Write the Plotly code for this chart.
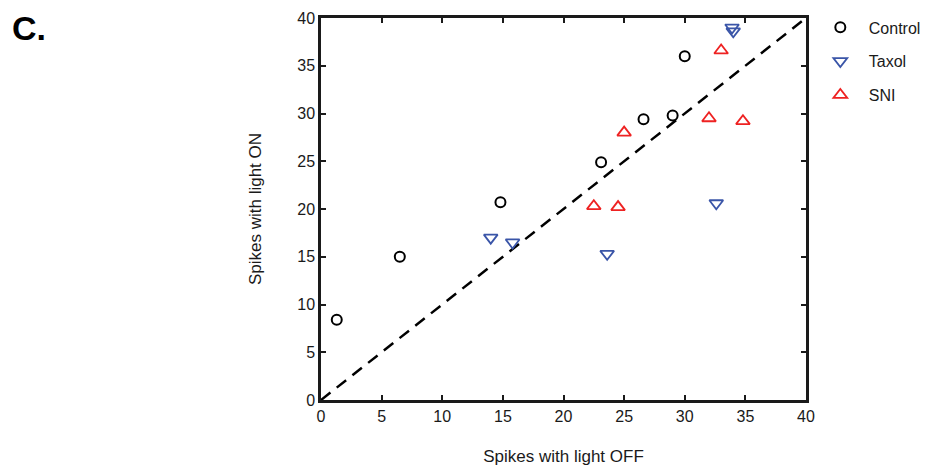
import plotly.graph_objects as go

# Spikes with light OFF (x) vs light ON (y)
control_off = [1.3, 6.5, 14.8, 23.1, 26.6, 29.0, 30.0]
control_on = [8.4, 15.0, 20.7, 24.9, 29.4, 29.8, 36.0]

taxol_off = [14.0, 15.8, 23.6, 32.6, 33.9, 34.0]
taxol_on = [17.0, 16.5, 15.3, 20.6, 39.0, 38.6]

sni_off = [22.5, 24.5, 25.0, 33.0, 32.0, 34.8]
sni_on = [20.3, 20.2, 28.0, 36.6, 29.5, 29.2]

unity = [0, 40]

font = "Liberation Sans, Arial, sans-serif"

fig = go.Figure()

# unity line
fig.add_trace(go.Scatter(
    x=unity, y=unity, mode="lines", showlegend=False,
    line=dict(color="black", width=2.5, dash="12px,8px"),
))

fig.add_trace(go.Scatter(
    x=control_off, y=control_on, mode="markers", name="Control", legendgroup="a",
    marker=dict(symbol="circle-open", size=10, color="black", line=dict(width=2)),
))
fig.add_trace(go.Scatter(
    x=taxol_off, y=taxol_on, mode="markers", name="Taxol", legendgroup="b",
    marker=dict(symbol="triangle-down-open", size=12, color="#3a55a8", line=dict(width=1.8)),
))
fig.add_trace(go.Scatter(
    x=sni_off, y=sni_on, mode="markers", name="SNI", legendgroup="c",
    marker=dict(symbol="triangle-up-open", size=12, color="#ee2222", line=dict(width=1.8)),
))

axis_style = dict(
    range=[0, 40], dtick=5, showgrid=False, zeroline=False,
    showline=True, linecolor="#1a1a1a", linewidth=2.5, mirror="ticks",
    ticks="inside", ticklen=5, tickwidth=2, tickcolor="#1a1a1a",
    tickfont=dict(size=16, color="#1a1a1a", family=font),
    automargin=False,
)

# page body adds ~8px offset, margins compensate for it
fig.update_layout(
    width=938, height=475,
    margin=dict(l=313, r=140, t=10, b=83, autoexpand=False),
    paper_bgcolor="white", plot_bgcolor="white",
    font=dict(family=font, color="#1a1a1a"),
    xaxis=dict(axis_style, title=dict(text="Spikes with light OFF", font=dict(size=17), standoff=27)),
    yaxis=dict(axis_style, title=dict(text="Spikes with light ON", font=dict(size=17), standoff=32)),
    legend=dict(
        x=1.012, y=1.02, xanchor="left", yanchor="top",
        font=dict(size=16, family=font), tracegroupgap=10,
        traceorder="grouped", itemwidth=47,
    ),
)

fig.add_annotation(
    text="<b>C.</b>", xref="paper", yref="paper", x=-0.64, y=1.026,
    xanchor="left", yanchor="top", showarrow=False, borderpad=0,
    font=dict(size=34, family=font, color="black"),
)

fig.write_html("out.html")
